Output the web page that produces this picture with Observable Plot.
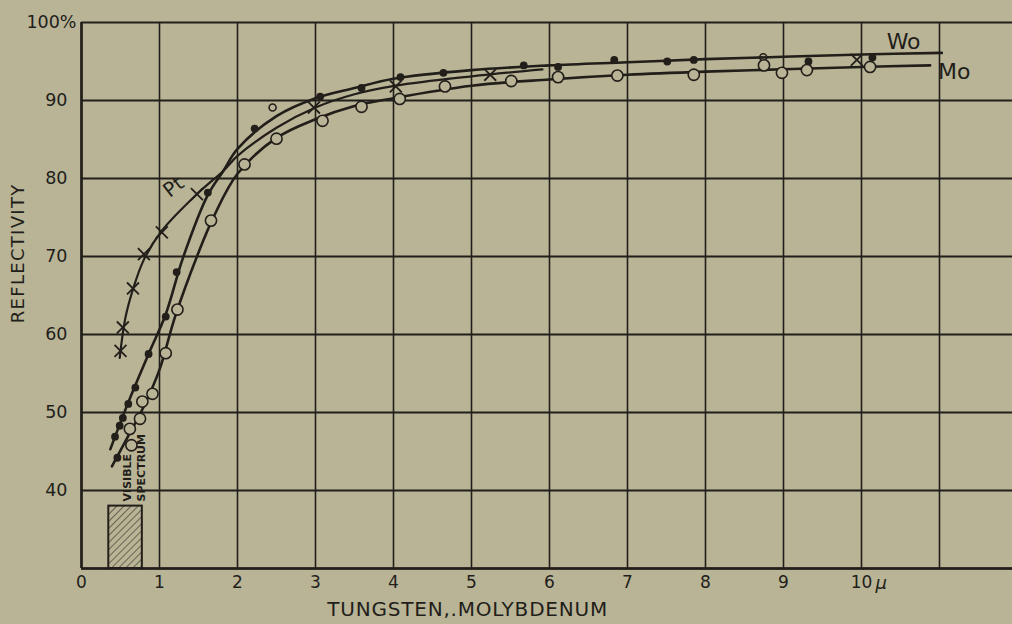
<!DOCTYPE html>
<html><head><meta charset="utf-8">
<script src="https://cdn.jsdelivr.net/npm/d3@7"></script>
<script src="https://cdn.jsdelivr.net/npm/@observablehq/plot@0.6"></script>
<style>
html,body{margin:0;padding:0;background:#b9b496;}
#chart svg{display:block}
</style></head><body><div id="chart"></div>
<script>
// ---- data (x in microns, y in % reflectivity) ----
const tungstenDots = [[0.43,46.9],[0.46,44.2],[0.49,48.3],[0.53,49.3],[0.60,51.1],[0.69,53.2],[0.86,57.5],[1.08,62.3],[1.22,68.0],[1.62,78.2],[2.22,86.4],[3.06,90.5],[3.59,91.6],[4.09,93.0],[4.64,93.55],[5.67,94.5],[6.11,94.3],[6.83,95.2],[7.51,95.0],[7.85,95.2],[9.32,95.0],[10.14,95.5]];
const smallCircles = [[2.45,89.1],[8.74,95.55]];
const molybdenumCircles = [[0.64,45.8],[0.62,47.9],[0.75,49.2],[0.78,51.4],[0.91,52.4],[1.08,57.6],[1.23,63.2],[1.66,74.6],[2.09,81.8],[2.50,85.1],[3.09,87.4],[3.59,89.2],[4.08,90.2],[4.66,91.8],[5.51,92.5],[6.11,93.0],[6.87,93.2],[7.85,93.3],[8.75,94.5],[8.98,93.55],[9.30,93.9],[10.11,94.3]];
const platinumCrosses = [[0.50,57.9],[0.53,60.9],[0.66,65.9],[0.80,70.3],[1.03,73.1],[1.48,78.0],[2.98,89.1],[4.03,91.8],[5.24,93.3],[9.94,95.2]];

const tungstenCurve = [[0.37,45.3],[0.6,51.3],[0.86,57.5],[1.08,62.6],[1.3,69.8],[1.62,77.9],[1.82,81.0],[2.0,83.8],[2.5,88.0],[3.0,90.3],[3.5,91.6],[4.0,92.8],[5.0,93.9],[6.0,94.5],[7.0,94.9],[8.0,95.3],[9.0,95.6],[10.0,95.9],[11.03,96.1]];
const molybdenumCurve = [[0.39,43.1],[0.6,47.0],[0.8,50.8],[1.0,55.5],[1.2,62.3],[1.5,70.5],[1.7,75.2],[2.0,80.6],[2.5,85.2],[3.0,87.6],[3.5,89.3],[4.0,90.3],[5.0,91.9],[6.0,92.7],[7.0,93.3],[8.0,93.7],[9.0,94.0],[10.0,94.3],[10.88,94.5]];
const platinumCurve = [[0.49,57.0],[0.56,62.0],[0.66,65.8],[0.8,69.6],[1.03,73.3],[1.48,78.0],[1.82,81.0],[2.0,82.9],[2.5,86.5],[3.0,89.1],[3.5,90.8],[4.03,91.9],[5.0,93.1],[5.91,94.0]];

const visibleBand = [{x1:0.35, x2:0.78, y1:30, y2:38}];
const xTicks = [0,1,2,3,4,5,6,7,8,9,10];
const yTicks = [40,50,60,70,80,90];
const xGrid = [0,1,2,3,4,5,6,7,8,9,10,11];
const yGrid = [30,40,50,60,70,80,90,100];

const ink = "#221e1a";
const paper = "#b9b496";
const font = "DejaVu Sans";

const chart = Plot.plot({
  width: 1012, height: 624,
  marginLeft: 81, marginRight: 0, marginTop: 22, marginBottom: 56,
  x: {domain: [0, 11.936]},
  y: {domain: [30, 100]},
  style: {background: paper, color: ink, fontFamily: font},
  marks: [
    Plot.ruleX(xGrid, {y1: 30, y2: 100, stroke: ink, strokeWidth: 1.6}),
    Plot.ruleY(yGrid, {x1: 0, x2: 11.936, stroke: ink, strokeWidth: 1.8}),
    Plot.ruleX([0], {y1: 30, y2: 100, stroke: ink, strokeWidth: 2.6}),
    Plot.ruleY([30], {x1: 0, x2: 11.936, stroke: ink, strokeWidth: 2.6}),
    Plot.rect(visibleBand, {x1: "x1", x2: "x2", y1: "y1", y2: "y2", fill: "url(#hatch)", stroke: ink, strokeWidth: 2}),
    Plot.line(tungstenCurve, {x: d => d[0], y: d => d[1], curve: "catmull-rom", stroke: ink, strokeWidth: 2.6}),
    Plot.line(molybdenumCurve, {x: d => d[0], y: d => d[1], curve: "catmull-rom", stroke: ink, strokeWidth: 2.6}),
    Plot.line(platinumCurve, {x: d => d[0], y: d => d[1], curve: "catmull-rom", stroke: ink, strokeWidth: 2.2}),
    Plot.dot(tungstenDots, {x: d => d[0], y: d => d[1], r: 3.9, fill: ink, stroke: "none"}),
    Plot.dot(smallCircles, {x: d => d[0], y: d => d[1], r: 3.5, fill: "none", stroke: ink, strokeWidth: 1.6}),
    Plot.dot(molybdenumCircles, {x: d => d[0], y: d => d[1], r: 5.6, fill: paper, stroke: ink, strokeWidth: 1.6}),
    Plot.dot(platinumCrosses, {x: d => d[0], y: d => d[1], symbol: "times", r: 5.5, stroke: ink, strokeWidth: 1.8}),
    Plot.axisX(xTicks, {tickSize: 0, tickPadding: 7, fontSize: 17, tickFormat: d => String(d)}),
    Plot.text(["μ"], {x: 10, y: 30, dx: 14, dy: 15, textAnchor: "start", fontSize: 18, fontStyle: "italic"}),
    Plot.axisY(yTicks, {tickSize: 0, tickPadding: 14, fontSize: 17.5, label: null}),
    Plot.text(["100%"], {x: 0, y: 100, dx: -5, textAnchor: "end", fontSize: 17.5}),
    Plot.text(["TUNGSTEN,.MOLYBDENUM"], {x: 4.95, y: 30, dy: 41, fontSize: 20, textAnchor: "middle"}),
    Plot.text(["REFLECTIVITY"], {x: 0, y: 70.4, dx: -63, rotate: -90, fontSize: 18, textAnchor: "middle"}),
    Plot.text(["VISIBLE"], {x: 0.59, y: 38.6, rotate: -90, textAnchor: "start", fontSize: 11, fontWeight: "bold"}),
    Plot.text(["SPECTRUM"], {x: 0.77, y: 38.6, rotate: -90, textAnchor: "start", fontSize: 11, fontWeight: "bold"}),
    Plot.text(["Wo"], {x: 10.54, y: 97.56, fontSize: 22, textAnchor: "middle"}),
    Plot.text(["Mo"], {x: 11.19, y: 93.7, fontSize: 22, textAnchor: "middle"}),
    Plot.text(["Pt"], {x: 1.18, y: 78.9, fontSize: 20, rotate: -38, textAnchor: "middle"})
  ]
});

// letter spacing on the two axis titles
chart.querySelectorAll("text").forEach(t => {
  if (t.textContent === "TUNGSTEN,.MOLYBDENUM") t.setAttribute("letter-spacing", "0.8");
  if (t.textContent === "REFLECTIVITY") t.setAttribute("letter-spacing", "1.3");
});

// hatch pattern for the visible-spectrum band
const ns = "http://www.w3.org/2000/svg";
const defs = document.createElementNS(ns, "defs");
const pat = document.createElementNS(ns, "pattern");
pat.setAttribute("id", "hatch");
pat.setAttribute("patternUnits", "userSpaceOnUse");
pat.setAttribute("width", "5");
pat.setAttribute("height", "5");
pat.setAttribute("patternTransform", "rotate(45)");
const bg = document.createElementNS(ns, "rect");
bg.setAttribute("width", "5"); bg.setAttribute("height", "5"); bg.setAttribute("fill", paper);
const ln = document.createElementNS(ns, "line");
ln.setAttribute("x1", "0"); ln.setAttribute("y1", "0"); ln.setAttribute("x2", "0"); ln.setAttribute("y2", "5");
ln.setAttribute("stroke", ink); ln.setAttribute("stroke-width", "1.1");
pat.appendChild(bg); pat.appendChild(ln); defs.appendChild(pat);
chart.insertBefore(defs, chart.firstChild);

document.getElementById("chart").appendChild(chart);
</script>
</body></html>
